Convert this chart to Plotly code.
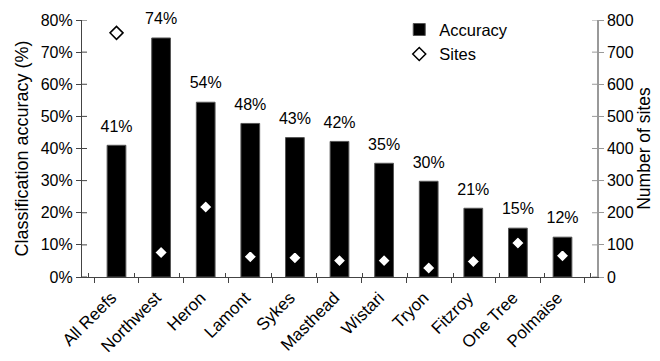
import plotly.graph_objects as go

categories = ["All Reefs", "Northwest", "Heron", "Lamont", "Sykes", "Masthead",
              "Wistari", "Tryon", "Fitzroy", "One Tree", "Polmaise"]
accuracy = [0.410, 0.744, 0.544, 0.478, 0.434, 0.422, 0.354, 0.298, 0.214, 0.152, 0.124]
sites = [760, 76, 218, 63, 60, 51, 51, 28, 48, 106, 66]
acc_ticks = [0, 0.1, 0.2, 0.3, 0.4, 0.5, 0.6, 0.7, 0.8]
site_ticks = [0, 100, 200, 300, 400, 500, 600, 700, 800]

FONT = "'Liberation Sans', Roboto, Arial, sans-serif"
AXL = "#444444"
AXR = "#999999"
PLOT_W = 660 - 82 - 63
INNER = 5 / PLOT_W

fig = go.Figure()
fig.add_trace(go.Bar(x=categories, y=accuracy, name="Accuracy",
                     marker=dict(color="black", line=dict(color="#555555", width=1)),
                     xaxis="x", yaxis="y"))
fig.add_trace(go.Scatter(x=categories, y=accuracy, mode="markers+text",
                         text=[f"{round(v*100):d}%" for v in accuracy],
                         textposition="top center",
                         textfont=dict(family=FONT, size=16, color="black"),
                         marker=dict(size=14, opacity=0),
                         showlegend=False, hoverinfo="skip", xaxis="x", yaxis="y",
                         cliponaxis=False))
fig.add_trace(go.Scatter(x=categories, y=sites, mode="markers", name="Sites",
                         marker=dict(symbol="diamond", size=10, color="white",
                                     line=dict(color="black", width=1.5)),
                         xaxis="x", yaxis="y2", cliponaxis=False))
# invisible helper trace so the inner halves of the crossing x ticks are drawn
fig.add_trace(go.Scatter(x=categories, y=accuracy, mode="markers", marker=dict(opacity=0),
                         showlegend=False, hoverinfo="skip", xaxis="x2", yaxis="y"))

# inner halves of the crossing y ticks
shapes = []
for v in acc_ticks:
    shapes.append(dict(type="line", xref="x domain", yref="y", x0=0, x1=INNER,
                       y0=v, y1=v, line=dict(color=AXL, width=1)))
for v in site_ticks:
    shapes.append(dict(type="line", xref="x domain", yref="y2", x0=1 - INNER, x1=1,
                       y0=v, y1=v, line=dict(color=AXR, width=1)))

fig.update_layout(
    width=660, height=361,
    margin=dict(l=82, r=63, t=17, b=84),
    paper_bgcolor="white", plot_bgcolor="white",
    font=dict(family=FONT, size=16, color="black"),
    bargap=0.58,
    shapes=shapes,
    xaxis=dict(showline=True, linecolor=AXL, linewidth=1.2, ticks="outside",
               tickcolor=AXL, ticklen=5, tickson="boundaries", tickangle=-45,
               tickfont=dict(size=17), ticklabelstandoff=3, ticklabelshift=-5,
               showgrid=False, zeroline=False, automargin=False),
    xaxis2=dict(overlaying="x", ticks="inside", tickson="boundaries", anchor="y",
                tickcolor=AXL, ticklen=4, showticklabels=False, showline=False,
                showgrid=False, zeroline=False, side="bottom", automargin=False,
                categoryorder="array", categoryarray=categories),
    yaxis=dict(range=[0, 0.8], tickvals=acc_ticks, tickformat=".0%",
               showline=True, linecolor=AXL, linewidth=1.2, ticks="outside",
               tickcolor=AXL, ticklen=5, showgrid=False, zeroline=False,
               tickfont=dict(size=16), automargin=False,
               title=dict(text="Classification accuracy (%)", font=dict(size=18), standoff=7)),
    yaxis2=dict(range=[0, 800], tickvals=site_ticks, overlaying="y", side="right",
                showline=True, linecolor=AXR, linewidth=1.5, ticks="outside",
                tickcolor=AXR, ticklen=5, showgrid=False, zeroline=False,
                tickfont=dict(size=16), automargin=False,
                title=dict(text="Number of sites", font=dict(size=17.5), standoff=5)),
    legend=dict(x=0.616, y=1.03, xanchor="left", yanchor="top",
                bgcolor="rgba(0,0,0,0)", font=dict(size=16.5),
                tracegroupgap=2, itemwidth=30),
)

fig.write_html("out.html")
